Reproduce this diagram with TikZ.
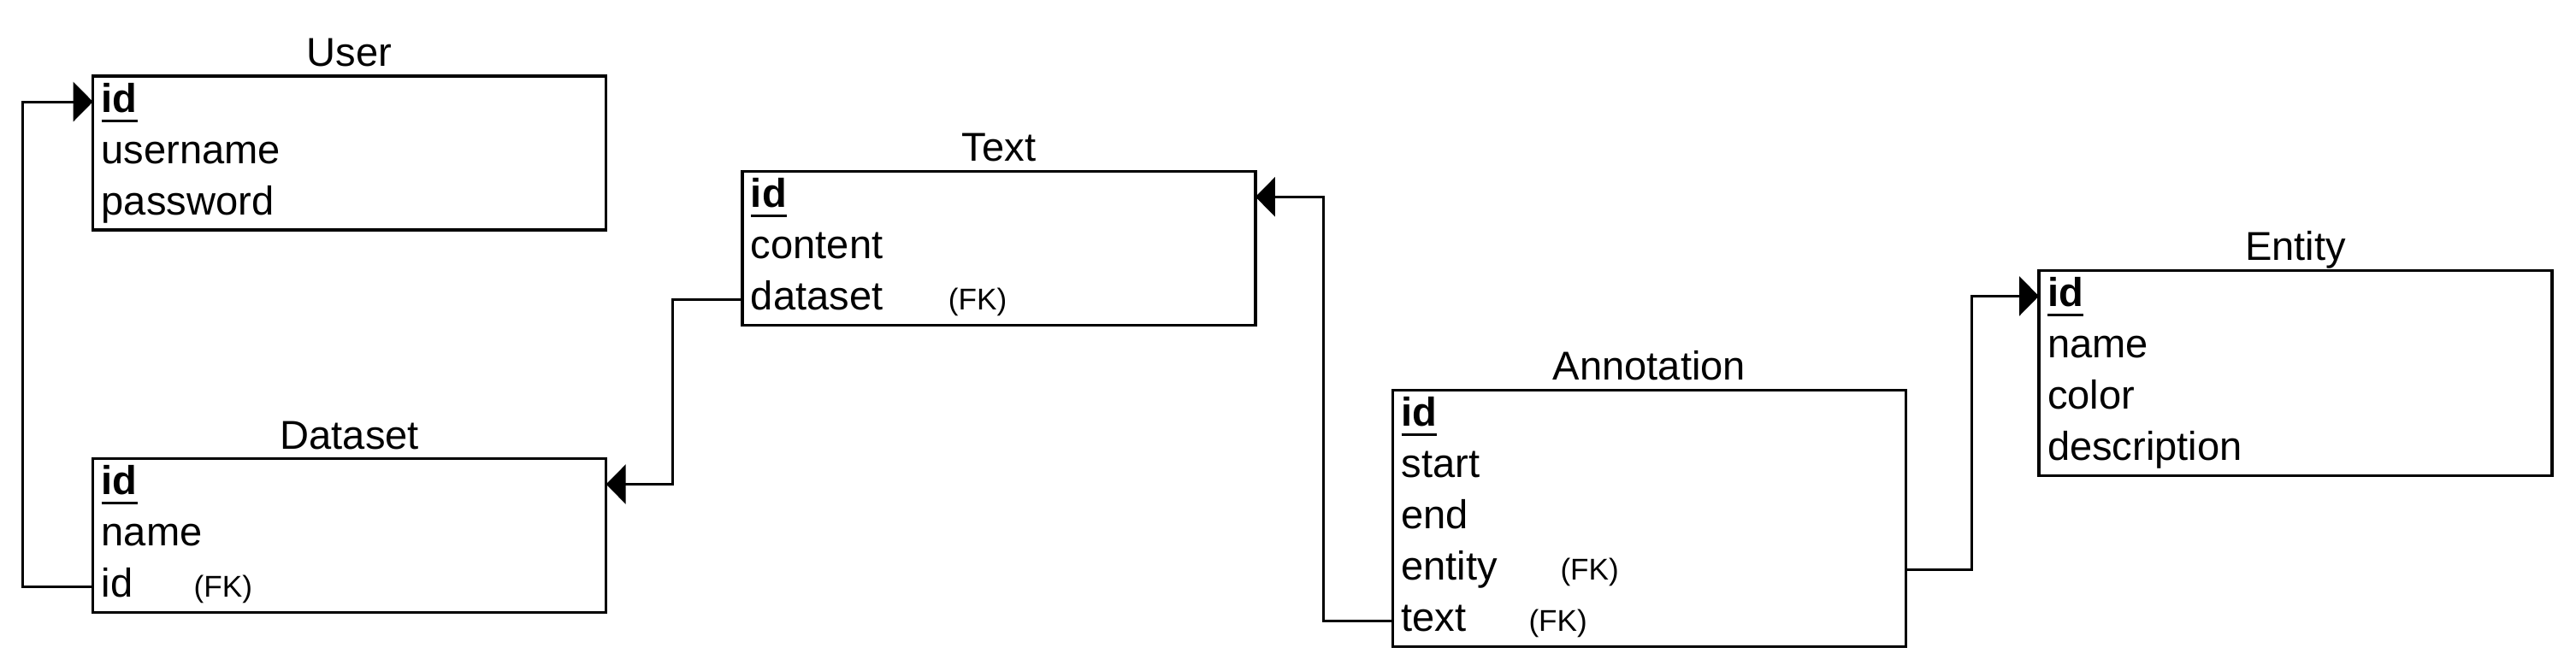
\documentclass[tikz,border=0pt]{standalone}
\usepackage{fontspec}
\setmainfont{Liberation Sans}
\usetikzlibrary{positioning,arrows.meta,fit}

\newcommand{\rowfont}{\fontsize{13.4}{16}\selectfont}
\newcommand{\fk}{{\fontsize{10}{12}\selectfont (FK)}}
\newcommand{\pk}[1]{\textbf{\setbox0=\hbox{#1}\rlap{\rule[-0.115cm]{\wd0}{0.028cm}}\box0}}

\begin{document}
\begin{tikzpicture}[
    field/.style={inner xsep=0.1cm, inner ysep=0pt, outer sep=0pt, text width=5.8cm, align=left,
        text height=0.34cm, text depth=0.1cm, minimum height=0.6cm, font=\rowfont},
    tablebox/.style={draw, line width=1pt, inner sep=0pt, outer sep=0pt},
    tabletitle/.style={inner sep=0pt, outer sep=0pt, text height=0.34cm, text depth=0.1cm, font=\rowfont},
    fkline/.style={line width=0.85pt, -{Triangle[length=0.23cm, width=0.46cm]}}
]
    \useasboundingbox (0,0) rectangle (30.12,-7.84);

    % User
    \node[field, anchor=north west] (u-id) at (1.087,-0.89) {\pk{id}};
    \node[field, below=0cm of u-id] (u-name) {username};
    \node[field, below=0cm of u-name] (u-pw) {password};
    \node[tablebox, fit=(u-id)(u-pw)] (user) {};
    \node[tabletitle, above=0.015cm of user] (user-title) {User};

    % Dataset
    \node[field, anchor=north west] (d-id) at (1.087,-5.365) {\pk{id}};
    \node[field, below=0cm of d-id] (d-name) {name};
    \node[field, below=0cm of d-name] (d-fk) {\makebox[1.08cm][l]{id}\fk};
    \node[tablebox, fit=(d-id)(d-fk)] (dataset) {};
    \node[tabletitle, above=0.015cm of dataset] (dataset-title) {Dataset};

    % Text
    \node[field, anchor=north west] (t-id) at (8.679,-2.003) {\pk{id}};
    \node[field, below=0cm of t-id] (t-content) {content};
    \node[field, below=0cm of t-content] (t-ds) {\makebox[2.31cm][l]{dataset}\fk};
    \node[tablebox, fit=(t-id)(t-ds)] (text) {};
    \node[tabletitle, above=0.015cm of text] (text-title) {Text};

    % Annotation
    \node[field, anchor=north west] (a-id) at (16.285,-4.564) {\pk{id}};
    \node[field, below=0cm of a-id] (a-start) {start};
    \node[field, below=0cm of a-start] (a-end) {end};
    \node[field, below=0cm of a-end] (a-ent) {\makebox[1.86cm][l]{entity}\fk};
    \node[field, below=0cm of a-ent] (a-text) {\makebox[1.49cm][l]{text}\fk};
    \node[tablebox, fit=(a-id)(a-text)] (annotation) {};
    \node[tabletitle, above=0.015cm of annotation] (annotation-title) {Annotation};

    % Entity
    \node[field, anchor=north west] (e-id) at (23.84,-3.164) {\pk{id}};
    \node[field, below=0cm of e-id] (e-name) {name};
    \node[field, below=0cm of e-name] (e-color) {color};
    \node[field, below=0cm of e-color] (e-desc) {description};
    \node[tablebox, fit=(e-id)(e-desc)] (entity) {};
    \node[tabletitle, above=0.015cm of entity] (entity-title) {Entity};

    % foreign keys
    \draw[fkline] (d-fk.west) -- ++(-0.82,0) |- (u-id.west);
    \draw[fkline] (t-ds.west) -- ++(-0.81,0) |- (d-id.east);
    \draw[fkline] (a-text.west) -- ++(-0.81,0) |- (t-id.east);
    \draw[fkline] (a-ent.east) -- ++(0.77,0) |- (e-id.west);
\end{tikzpicture}
\end{document}
